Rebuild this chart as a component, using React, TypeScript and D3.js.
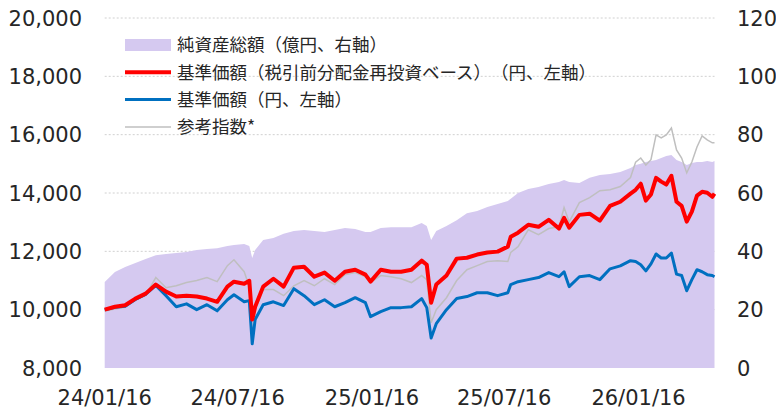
import React from "react";
import * as d3 from "d3";

// sample dates (every ~2 weeks, plus the sharp dips)
const dates = [
  "2024-01-16", "2024-01-30", "2024-02-13", "2024-02-27", "2024-03-12", "2024-03-26",
  "2024-04-09", "2024-04-23", "2024-05-07", "2024-05-21", "2024-06-04", "2024-06-18",
  "2024-07-02", "2024-07-11", "2024-07-25", "2024-08-01", "2024-08-05", "2024-08-09",
  "2024-08-20", "2024-09-03", "2024-09-17", "2024-10-01", "2024-10-15", "2024-10-29",
  "2024-11-12", "2024-11-26", "2024-12-10", "2024-12-24", "2025-01-07", "2025-01-14",
  "2025-01-28", "2025-02-11", "2025-02-25", "2025-03-11", "2025-03-25", "2025-04-01",
  "2025-04-07", "2025-04-14", "2025-04-28", "2025-05-12", "2025-05-26", "2025-06-09",
  "2025-06-23", "2025-07-07", "2025-07-21", "2025-07-25", "2025-08-04", "2025-08-18",
  "2025-09-01", "2025-09-15", "2025-09-29", "2025-10-06", "2025-10-13", "2025-10-27",
  "2025-11-10", "2025-11-24", "2025-12-08", "2025-12-22", "2026-01-05", "2026-01-12",
  "2026-01-19", "2026-01-26", "2026-02-02", "2026-02-09", "2026-02-16", "2026-02-23",
  "2026-03-02", "2026-03-09", "2026-03-16", "2026-03-23", "2026-03-30", "2026-04-06",
  "2026-04-13", "2026-04-20", "2026-04-27", "2026-04-30",
];

// 基準価額（税引前分配金再投資ベース）
const navReinvested = [
  10000, 10100, 10150, 10380, 10550, 10860, 10620, 10450, 10480, 10450, 10380, 10270,
  10790, 10960, 10890, 10990, 9660, 10100, 10790, 11060, 10790, 11440, 11470, 11130,
  11270, 10990, 11300, 11370, 11200, 10960, 11370, 11300, 11300, 11370, 11680, 11540,
  10240, 10860, 11170, 11750, 11780, 11890, 11960, 11990, 12160, 12500, 12640, 12910,
  12840, 13080, 12780, 13150, 12810, 13250, 13290, 13050, 13560, 13700, 13980, 14110,
  14320, 13740, 13950, 14520, 14390, 14290, 14590, 13700, 13560, 13020, 13360, 13910,
  14040, 14010, 13870, 13980,
];

// 基準価額
const nav = [
  10000, 10080, 10120, 10350, 10520, 10830, 10480, 10100, 10200, 10000, 10170, 9960,
  10340, 10510, 10270, 10310, 8830, 9660, 10170, 10270, 10140, 10720, 10480, 10170,
  10340, 10100, 10240, 10410, 10240, 9760, 9930, 10070, 10070, 10100, 10380, 10070,
  9030, 9520, 10000, 10380, 10450, 10580, 10580, 10480, 10580, 10860, 10960, 11030,
  11100, 11270, 11130, 11300, 10790, 11130, 11170, 11030, 11400, 11500, 11680, 11650,
  11540, 11330, 11570, 11910, 11770, 11770, 11940, 11220, 11170, 10650, 11030, 11370,
  11300, 11200, 11170, 11130,
];

// 参考指数
const refIndex = [
  9950, 10020, 10080, 10330, 10500, 11100, 10750, 10820, 10930, 11000, 11100, 10960,
  11510, 11710, 11300, 10790, 9070, 10000, 10690, 10690, 10480, 10820, 11000, 10820,
  11060, 10860, 11200, 11270, 11130, 10930, 11170, 11130, 11060, 10930, 11170, 11030,
  9550, 10000, 10410, 11000, 11370, 11510, 11650, 11680, 11650, 11960, 12160, 12740,
  12570, 12780, 12840, 13500, 13010, 13670, 13840, 14080, 14110, 14220, 14530, 15060,
  15200, 14960, 15140, 15990, 15890, 15990, 16230, 15480, 15200, 14690, 15060, 15580,
  15960, 15820, 15720, 15720,
];

// 純資産総額（億円）
const netAssets = [
  29.5, 32.9, 34.6, 36.0, 37.4, 38.7, 39.1, 39.4, 39.8, 40.5, 40.8, 41.1,
  41.8, 42.2, 42.5, 41.8, 37.7, 40.5, 43.9, 44.6, 46.0, 47.0, 47.3, 47.0,
  46.6, 47.3, 48.0, 47.7, 46.6, 46.6, 48.0, 48.3, 48.3, 48.3, 49.7, 48.7,
  43.9, 47.0, 48.7, 50.7, 53.1, 53.8, 55.2, 56.2, 57.3, 58.0, 60.0, 61.4,
  62.1, 63.1, 63.8, 64.5, 63.8, 63.4, 65.2, 66.2, 66.5, 67.2, 68.6, 69.6,
  70.0, 70.6, 71.0, 71.3, 72.0, 72.7, 73.0, 71.3, 70.6, 69.6, 70.3, 70.6,
  70.6, 71.0, 70.6, 71.0,
];

const leftTicks = [8000, 10000, 12000, 14000, 16000, 18000, 20000];
const rightTicks = [0, 20, 40, 60, 80, 100, 120];
const xTicks = ["2024-01-16", "2024-07-16", "2025-01-16", "2025-07-16", "2026-01-16"];

const legendItems = [
  { label: "純資産総額（億円、右軸）", kind: "area" },
  { label: "基準価額（税引前分配金再投資ベース）　（円、左軸）", kind: "red" },
  { label: "基準価額（円、左軸）", kind: "blue" },
  { label: "参考指数*", kind: "gray" },
];

const W = 776;
const H = 409;
const AREA_FILL = "#d5c9f0";
const RED = "#ff0000";
const BLUE = "#0070c0";
const GRAY = "#bfbfbf";
const NUM_FONT = "'DejaVu Sans', Verdana, sans-serif";
const JP_FONT = "'Noto Sans CJK JP', 'Noto Sans', sans-serif";

export default function App() {
  const parse = d3.utcParse("%Y-%m-%d");
  const t = dates.map((d) => parse(d) as Date);

  const x = d3.scaleUtc().domain(d3.extent(t) as [Date, Date]).range([104.7, 714.5]);
  const yL = d3.scaleLinear().domain([8000, 20000]).range([368, 18]);
  const yR = d3.scaleLinear().domain([0, 120]).range([368, 18]);

  const area = d3
    .area<number>()
    .x((_, i) => x(t[i]))
    .y0(yR(0))
    .y1((d) => yR(d));

  const line = d3
    .line<number>()
    .x((_, i) => x(t[i]))
    .y((d) => yL(d));

  const fmt = d3.format(",");
  const fmtDate = d3.utcFormat("%y/%m/%d");

  return (
    <svg
      width={W}
      height={H}
      style={{ position: "absolute", left: 0, top: 0, background: "#fff" }}
    >
      {/* grid */}
      {leftTicks.slice(1).map((v) => (
        <line
          key={v}
          x1={104.7}
          x2={714.5}
          y1={yL(v)}
          y2={yL(v)}
          stroke="#d0d0d0"
          strokeWidth={1}
          strokeDasharray="2,2"
        />
      ))}

      <path d={area(netAssets) || ""} fill={AREA_FILL} />
      <path d={line(refIndex) || ""} fill="none" stroke={GRAY} strokeWidth={1.5} />
      <path d={line(nav) || ""} fill="none" stroke={BLUE} strokeWidth={3} strokeLinejoin="round" />
      <path d={line(navReinvested) || ""} fill="none" stroke={RED} strokeWidth={4} strokeLinejoin="round" />

      {/* left axis */}
      {leftTicks.map((v) => (
        <text
          key={v}
          x={82}
          y={yL(v)}
          dy="0.36em"
          textAnchor="end"
          fontFamily={NUM_FONT}
          fontSize={21}
          fill="#262626"
        >
          {fmt(v)}
        </text>
      ))}

      {/* right axis */}
      {rightTicks.map((v) => (
        <text
          key={v}
          x={737}
          y={yR(v)}
          dy="0.36em"
          textAnchor="start"
          fontFamily={NUM_FONT}
          fontSize={21}
          fill="#262626"
        >
          {v}
        </text>
      ))}

      {/* x axis */}
      {xTicks.map((d) => (
        <text
          key={d}
          x={x(parse(d) as Date)}
          y={397}
          dy="0.36em"
          textAnchor="middle"
          fontFamily={NUM_FONT}
          fontSize={21}
          fill="#262626"
        >
          {fmtDate(parse(d) as Date)}
        </text>
      ))}

      {/* legend */}
      {legendItems.map((item, i) => {
        const cy = 45 + i * 27.3;
        return (
          <g key={item.label}>
            {item.kind === "area" && (
              <rect x={125} y={cy - 6} width={46} height={12} fill={AREA_FILL} />
            )}
            {item.kind === "red" && (
              <line x1={125} x2={171} y1={cy} y2={cy} stroke={RED} strokeWidth={4} />
            )}
            {item.kind === "blue" && (
              <line x1={125} x2={171} y1={cy} y2={cy} stroke={BLUE} strokeWidth={3} />
            )}
            {item.kind === "gray" && (
              <line x1={125} x2={171} y1={cy} y2={cy} stroke={GRAY} strokeWidth={1.5} />
            )}
            <text
              x={177}
              y={cy}
              dy="0.36em"
              fontFamily={JP_FONT}
              fontSize={17.5}
              fill="#262626"
            >
              {item.label}
            </text>
          </g>
        );
      })}
    </svg>
  );
}
